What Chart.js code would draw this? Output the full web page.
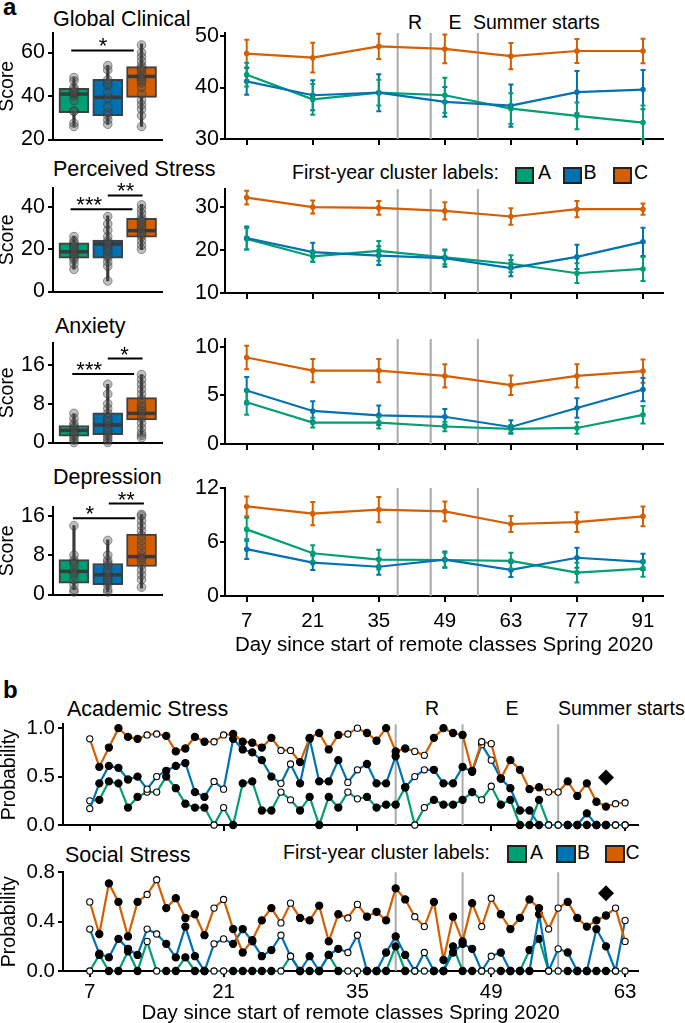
<!DOCTYPE html>
<html lang="en">
<head>
<meta charset="UTF-8">
<title>First-year clusters: scores and daily stress</title>
<script src="https://cdn.jsdelivr.net/npm/chart.js"></script>
<style>
  body { margin: 0; background: #fff; }
  #page { position: relative; width: 685px; height: 1023px; overflow: hidden;
          font-family: "Liberation Sans", Arial, Helvetica, sans-serif; color: #000; }
  canvas { position: absolute; }
  .t { position: absolute; line-height: 1; white-space: nowrap; }
  .title { font-size: 21.5px; }
  .letter { font-size: 24px; font-weight: bold; }
  .note { font-size: 19.5px; }
  .mid { transform: translateX(-50%); }
  .swatch { position: absolute; box-sizing: border-box; border: 2px solid #222; }
</style>
</head>
<body>
<div id="page">
  <div class="t letter" style="left:3px;top:-5px">a</div>
  <div class="t letter" style="left:3px;top:678px">b</div>

  <div class="t title" style="left:53px;top:8.5px">Global Clinical</div>
  <div class="t title" style="left:53px;top:159px">Perceived Stress</div>
  <div class="t title" style="left:55px;top:316px">Anxiety</div>
  <div class="t title" style="left:53px;top:467px">Depression</div>
  <div class="t title" style="left:67px;top:698.5px">Academic Stress</div>
  <div class="t title" style="left:65px;top:845px">Social Stress</div>

  <div class="t note mid" style="left:415px;top:12.8px">R</div>
  <div class="t note mid" style="left:455px;top:12.8px">E</div>
  <div class="t note" style="left:473px;top:12.8px">Summer starts</div>
  <div class="t note mid" style="left:432px;top:698.5px">R</div>
  <div class="t note mid" style="left:512px;top:698.5px">E</div>
  <div class="t note" style="left:558px;top:698.5px">Summer starts</div>

  <div class="t note" style="left:292px;top:162.8px">First-year cluster labels:</div>
  <div class="swatch" style="left:515px;top:167px;width:19px;height:17px;background:#009E73"></div>
  <div class="t note" style="left:538px;top:162.8px">A</div>
  <div class="swatch" style="left:563px;top:167px;width:19px;height:17px;background:#0072B2"></div>
  <div class="t note" style="left:583.5px;top:162.8px">B</div>
  <div class="swatch" style="left:613px;top:167px;width:19px;height:17px;background:#D55E00"></div>
  <div class="t note" style="left:634px;top:162.8px">C</div>

  <div class="t note" style="left:283px;top:842.8px">First-year cluster labels:</div>
  <div class="swatch" style="left:507px;top:845px;width:20px;height:18px;background:#009E73"></div>
  <div class="t note" style="left:530px;top:842.8px">A</div>
  <div class="swatch" style="left:556px;top:845px;width:20px;height:18px;background:#0072B2"></div>
  <div class="t note" style="left:577px;top:842.8px">B</div>
  <div class="swatch" style="left:605px;top:845px;width:20px;height:18px;background:#D55E00"></div>
  <div class="t note" style="left:625.5px;top:842.8px">C</div>

  <canvas id="boxGC"></canvas>
  <canvas id="boxPS"></canvas>
  <canvas id="boxAX"></canvas>
  <canvas id="boxDP"></canvas>
  <canvas id="lineGC"></canvas>
  <canvas id="linePS"></canvas>
  <canvas id="lineAX"></canvas>
  <canvas id="lineDP"></canvas>
  <canvas id="dailyAcad"></canvas>
  <canvas id="dailySoc"></canvas>
</div>

<script>
// ---- data ----
const groups = ['A', 'B', 'C'];
const surveyDays = [7, 21, 35, 49, 63, 77, 91];
const eventDays = [39, 46, 56];

// box plot stats, one value per group A, B, C
const gcLow = [26, 27, 26];
const gcQ1 = [32.3, 31, 39.4];
const gcMed = [40.9, 39.4, 49];
const gcQ3 = [43.5, 47.7, 53.5];
const gcHigh = [48.5, 54, 64];
const gcPtsA = [26, 27.5, 33, 33, 38, 40, 41, 41.5, 42, 43, 44, 47, 48.5];
const gcPtsB = [27, 29, 31, 32.5, 35, 39, 41.5, 45, 46, 47.5, 52, 54];
const gcPtsC = [26, 31, 34, 36, 38, 41, 44, 46, 47, 48, 49, 50, 52, 53, 54, 56, 58, 60, 63.5];

const psLow = [10.6, 5, 19.8];
const psQ1 = [15.8, 15.8, 25.7];
const psMed = [18.8, 22.5, 28.8];
const psQ3 = [23, 24.4, 34.7];
const psHigh = [26.2, 35.8, 41.3];
const psPtsA = [10.5, 13, 15, 16, 17, 18, 19, 20, 21, 22, 23, 24, 26];
const psPtsB = [5, 12, 14, 16, 17, 19, 20, 21, 22, 23, 24, 26, 29, 32, 35.5];
const psPtsC = [20, 22, 24, 26, 27, 28, 29, 30, 31, 32, 33, 34, 35, 37, 39, 41];

const axLow = [0, 0, 1.5];
const axQ1 = [1.3, 1.6, 4.65];
const axMed = [2.5, 3.6, 6];
const axQ3 = [3.5, 6.1, 9.25];
const axHigh = [5.9, 12, 14];
const axPtsA = [0, 0.5, 1, 1.5, 2, 2.5, 3, 3.5, 4, 5, 6];
const axPtsB = [0, 0.5, 1, 1.5, 2, 2.5, 3, 4, 4.5, 5, 6, 7, 8, 10, 12];
const axPtsC = [1, 1.5, 2, 3, 4, 5, 6, 6.5, 7, 7.5, 8, 9, 10, 11, 12, 13, 14];

const dpLow = [1, 0.5, 1.3];
const dpQ1 = [2.3, 2, 5.7];
const dpMed = [4.7, 4, 7.7];
const dpQ3 = [7.1, 6.3, 12.3];
const dpHigh = [14, 11.1, 16.3];
const dpPtsA = [0.5, 1, 2, 3, 4, 4.5, 5, 6, 6.5, 7, 8, 14];
const dpPtsB = [0.5, 1, 2, 2.5, 3, 3.5, 4, 4.5, 5, 6, 6.5, 7, 8, 11];
const dpPtsC = [1.5, 3, 4, 5, 6, 7, 7.5, 8, 9, 10, 11, 12, 13, 14, 15, 16, 16.3];

// significance brackets (x in group index units)
const gcSig = [{x1: -0.08, x2: 1.77, y: 61, text: '*', tx: 0.86}];
const psSig = [{x1: -0.1, x2: 1.73, y: 38.9, text: '***', tx: 0.45}, {x1: 1.0, x2: 2.03, y: 45.5, text: '**', tx: 1.53}];
const axSig = [{x1: -0.05, x2: 1.78, y: 14.1, text: '***', tx: 0.45}, {x1: 1.0, x2: 2.03, y: 17.3, text: '*', tx: 1.5}];
const dpSig = [{x1: -0.03, x2: 1.81, y: 15.5, text: '*', tx: 0.47}, {x1: 1.03, x2: 2.07, y: 18.5, text: '**', tx: 1.55}];

// survey means and error half-widths per group
const gcMeanA = [42.5, 37.7, 39.0, 38.5, 35.9, 34.5, 33.2];
const gcErrA = [2.3, 3.0, 2.5, 3.4, 3.0, 2.6, 3.3];
const gcMeanB = [41.2, 38.5, 39.0, 37.2, 36.5, 39.1, 39.6];
const gcErrB = [2.6, 2.9, 3.6, 2.9, 4.1, 4.1, 3.8];
const gcMeanC = [46.6, 45.8, 48.0, 47.5, 46.1, 47.1, 47.1];
const gcErrC = [2.7, 2.9, 2.45, 2.8, 2.55, 2.35, 2.4];

const psMeanA = [22.6, 18.5, 19.8, 18.3, 16.8, 14.6, 15.6];
const psErrA = [2.5, 1.2, 2.3, 1.6, 2.0, 2.3, 2.8];
const psMeanB = [22.8, 19.5, 18.7, 18.1, 15.8, 18.4, 21.9];
const psErrB = [2.7, 2.2, 2.2, 2.0, 1.9, 2.8, 3.3];
const psMeanC = [32.2, 30.0, 29.8, 29.1, 27.8, 29.5, 29.5];
const psErrC = [1.6, 1.5, 1.6, 2.0, 1.9, 1.9, 1.3];

const axMeanA = [4.3, 2.2, 2.2, 1.8, 1.55, 1.65, 3.0];
const axErrA = [1.3, 0.5, 0.6, 0.5, 0.4, 0.6, 0.9];
const axMeanB = [5.5, 3.4, 2.95, 2.8, 1.75, 3.7, 5.6];
const axErrB = [1.4, 1.0, 1.0, 0.8, 0.7, 1.0, 1.2];
const axMeanC = [8.9, 7.55, 7.55, 7.0, 6.05, 7.0, 7.5];
const axErrC = [1.2, 1.2, 1.2, 1.2, 1.0, 1.2, 1.2];

const dpMeanA = [7.4, 4.75, 4.05, 4.0, 3.9, 2.6, 3.05];
const dpErrA = [1.3, 0.9, 1.1, 0.8, 0.9, 1.1, 0.9];
const dpMeanB = [5.2, 3.7, 3.25, 4.05, 2.9, 4.25, 3.8];
const dpErrB = [1.1, 0.8, 0.9, 0.9, 0.8, 1.1, 0.9];
const dpMeanC = [9.95, 9.15, 9.6, 9.4, 8.0, 8.2, 8.85];
const dpErrC = [1.1, 1.3, 1.4, 1.1, 0.9, 1.1, 1.1];

// panel b: daily probabilities, days 7..63
const dailyDays = [7, 8, 9, 10, 11, 12, 13, 14, 15, 16, 17, 18, 19, 20, 21, 22, 23, 24, 25, 26, 27, 28,
  29, 30, 31, 32, 33, 34, 35, 36, 37, 38, 39, 40, 41, 42, 43, 44, 45, 46, 47, 48, 49, 50, 51, 52, 53,
  54, 55, 56, 57, 58, 59, 60, 61, 62, 63];
const openDays = [7, 13, 14, 20, 21, 27, 28, 34, 35, 41, 42, 48, 49, 55, 56, 62, 63];

const acadA = [0.25, 0.26, 0.45, 0.43, 0.18, 0.29, 0.34,
  0.34, 0.50, 0.38, 0.22, 0.18, 0.18, 0.00,
  0.18, 0.00, 0.43, 0.45, 0.15, 0.15, 0.34,
  0.26, 0.15, 0.29, 0.00, 0.29, 0.18, 0.34,
  0.27, 0.29, 0.18, 0.21, 0.21, 0.39, 0.00,
  0.18, 0.26, 0.21, 0.21, 0.26, 0.34, 0.26,
  0.40, 0.21, 0.26, 0.00, 0.00, 0.26, 0.00,
  0, 0, 0, 0, 0, 0, 0, 0];
const acadB = [0.17, 0.43, 0.61, 0.59, 0.47, 0.50, 0.37,
  0.50, 0.56, 0.61, 0.64, 0.34, 0.29, 0.45,
  0.37, 0.89, 0.78, 0.75, 0.67, 0.50, 0.43,
  0.63, 0.43, 0.89, 0.45, 0.45, 0.67, 0.44,
  0.57, 0.63, 0.43, 0.43, 0.71, 0.39, 0.50,
  0.57, 0.57, 0.43, 0.43, 0.60, 0.55, 0.83,
  0.67, 0.48, 0.38, 0.15, 0.15, 0.00, 0.00,
  0.00, 0.00, 0.00, 0.12, 0.00, 0.00, 0.00, 0.00];
const acadC = [0.89, 0.60, 0.80, 1.00, 0.91, 0.89, 0.93,
  0.94, 0.92, 0.76, 0.79, 0.91, 0.86, 0.86,
  0.93, 0.94, 0.86, 0.85, 0.80, 0.90, 0.77,
  0.77, 0.65, 0.90, 0.95, 0.78, 0.93, 0.94,
  1.00, 0.95, 0.87, 1.00, 0.76, 0.79, 0.76,
  0.72, 0.90, 1.00, 0.95, 0.93, 0.56, 0.86,
  0.84, 0.48, 0.67, 0.57, 0.37, 0.39, 0.34,
  0.34, 0.45, 0.30, 0.43, 0.24, 0.19, 0.22, 0.23];

const socA = [0, 0.13, 0, 0, 0.16, 0, 0.24,
  0, 0, 0, 0.11, 0, 0, 0,
  0, 0, 0, 0, 0, 0, 0,
  0.12, 0, 0, 0, 0.13, 0, 0,
  0, 0, 0, 0, 0.20, 0, 0,
  0, 0, 0, 0.20, 0, 0, 0,
  0, 0, 0, 0, 0.17, 0.26, 0,
  0, 0, 0, 0, 0, 0, 0, 0];
const socB = [0.34, 0.14, 0.11, 0.26, 0.18, 0.13, 0.34,
  0.30, 0.22, 0.11, 0.36, 0.12, 0.00, 0.22,
  0.26, 0.22, 0.34, 0.24, 0.12, 0.17, 0.29,
  0.12, 0.00, 0.12, 0.00, 0.13, 0.18, 0.15,
  0.29, 0.00, 0.00, 0.15, 0.28, 0.13, 0.00,
  0.15, 0.00, 0.00, 0.15, 0.22, 0.18, 0.00,
  0.12, 0.15, 0.00, 0.00, 0.00, 0.46, 0.00,
  0.18, 0.15, 0.00, 0.00, 0.34, 0.20, 0.00, 0.41];
const socC = [0.56, 0.30, 0.71, 0.56, 0.28, 0.56, 0.62,
  0.74, 0.51, 0.59, 0.43, 0.46, 0.29, 0.51,
  0.58, 0.34, 0.15, 0.25, 0.41, 0.51, 0.39,
  0.55, 0.43, 0.41, 0.53, 0.24, 0.46, 0.43,
  0.54, 0.44, 0.48, 0.41, 0.67, 0.58, 0.44,
  0.36, 0.56, 0.09, 0.44, 0.24, 0.55, 0.36,
  0.59, 0.46, 0.34, 0.43, 0.58, 0.51, 0.34,
  0.51, 0.56, 0.43, 0.36, 0.41, 0.45, 0.51, 0.24];

const acadDiamond = [61, 0.49];
const socDiamond = [61, 0.63];

// ---- drawing ----
const colors = ['#009E73', '#0072B2', '#D55E00'];
Chart.defaults.font.family = '"Liberation Sans", Arial, Helvetica, sans-serif';
Chart.defaults.color = '#000';
Chart.defaults.animation = false;
Chart.defaults.plugins.legend.display = false;
Chart.defaults.plugins.tooltip.enabled = false;

function place(id, g) {
  const c = document.getElementById(id);
  const left = g.x0 - g.yw, top = g.y0 - g.pt;
  const w = g.x1 + g.pr - left, h = g.y1 + g.xh + g.pb - top;
  c.width = w; c.height = h;
  Object.assign(c.style, {left: left + 'px', top: top + 'px', width: w + 'px', height: h + 'px'});
  return c;
}

function yAxis(g, range, ticks, size, title, dec) {
  return {
    min: range[0], max: range[1],
    afterFit: s => { s.width = g.yw; },
    afterBuildTicks: s => { s.ticks = ticks.map(v => ({value: v})); },
    ticks: {padding: g.tp, font: {size: size}, color: '#000', callback: v => dec ? v.toFixed(dec) : v},
    grid: {drawOnChartArea: false, tickLength: 5, color: '#000', lineWidth: 2},
    border: {color: '#000', width: 2},
    title: title ? {display: true, text: title, color: '#000', padding: 0,
                    font: {size: 19.5, lineHeight: g.tlh}} : {display: false}
  };
}

function xAxis(g, range, ticks, showLabels, title) {
  return {
    type: 'linear', min: range[0], max: range[1],
    afterFit: s => { s.height = g.xh; },
    afterBuildTicks: s => { s.ticks = ticks.map(v => ({value: v})); },
    ticks: {display: showLabels, padding: g.xp, font: {size: 20.5}, color: '#000', maxRotation: 0, autoSkip: false},
    grid: {drawOnChartArea: false, tickLength: 6, color: '#000', lineWidth: 2},
    border: {color: '#000', width: 2},
    title: title ? {display: true, text: title, color: '#000', padding: 0, font: {size: 20.5}} : {display: false}
  };
}

const eventLines = {
  id: 'eventLines',
  beforeDatasetsDraw(chart) {
    const {ctx, chartArea: a, scales: {x}} = chart;
    ctx.save();
    ctx.strokeStyle = '#a9a9a9';
    ctx.lineWidth = 2;
    eventDays.forEach(d => {
      const px = x.getPixelForValue(d);
      ctx.beginPath(); ctx.moveTo(px, a.top); ctx.lineTo(px, a.bottom); ctx.stroke();
    });
    ctx.restore();
  }
};

const errorBars = {
  id: 'errorBars',
  afterDatasetsDraw(chart) {
    const {ctx, scales: {x, y}} = chart;
    chart.data.datasets.forEach(ds => {
      if (!ds.errors) return;
      ctx.save();
      ctx.strokeStyle = ds.borderColor;
      ctx.lineWidth = 2;
      ds.data.forEach((p, k) => {
        const px = x.getPixelForValue(p.x);
        const lo = y.getPixelForValue(p.y - ds.errors[k]);
        const hi = y.getPixelForValue(p.y + ds.errors[k]);
        ctx.beginPath();
        ctx.moveTo(px, lo); ctx.lineTo(px, hi);
        ctx.moveTo(px - 2.5, lo); ctx.lineTo(px + 2.5, lo);
        ctx.moveTo(px - 2.5, hi); ctx.lineTo(px + 2.5, hi);
        ctx.stroke();
      });
      ctx.restore();
    });
  }
};

const sigBars = {
  id: 'sigBars',
  afterDraw(chart) {
    const bars = chart.options.plugins.sigBars.bars;
    const {ctx, scales: {x, y}} = chart;
    ctx.save();
    ctx.strokeStyle = '#000';
    ctx.fillStyle = '#000';
    ctx.lineWidth = 2;
    ctx.font = '22px "Liberation Sans", Arial, sans-serif';
    ctx.textAlign = 'center';
    ctx.textBaseline = 'alphabetic';
    bars.forEach(b => {
      const py = y.getPixelForValue(b.y);
      ctx.beginPath();
      ctx.moveTo(x.getPixelForValue(b.x1), py);
      ctx.lineTo(x.getPixelForValue(b.x2), py);
      ctx.stroke();
      ctx.fillText(b.text, x.getPixelForValue(b.tx), py + 3);
    });
    ctx.restore();
  }
};

function boxChart(id, g, low, q1, med, q3, high, pts, range, ticks, sig) {
  const idx = groups.map((_, i) => i);
  const scatter = [];
  pts.forEach((arr, i) => arr.forEach(v => scatter.push({x: i, y: v})));
  new Chart(place(id, g), {
    type: 'scatter',
    data: {datasets: [
      {type: 'scatter', data: scatter, order: 0, clip: false, pointRadius: 4.3,
       pointBackgroundColor: 'rgba(80,80,80,0.36)', pointBorderColor: 'rgba(50,50,50,0.5)', pointBorderWidth: 1},
      {type: 'scatter', data: idx.map(i => ({x: i, y: med[i]})), order: 1, clip: false,
       pointStyle: 'line', pointRadius: 14, pointBorderColor: '#3a3a3a', pointBorderWidth: 3.5},
      {type: 'bar', data: idx.map(i => ({x: i, y: [q1[i], q3[i]]})), order: 2, grouped: false, barThickness: 30,
       backgroundColor: colors, borderColor: '#404040', borderWidth: 2, borderSkipped: false},
      {type: 'bar', data: idx.map(i => ({x: i, y: [low[i], high[i]]})), order: 3, grouped: false, barThickness: 2.5,
       backgroundColor: '#3a3a3a'}
    ]},
    options: {
      responsive: false,
      layout: {padding: {top: g.pt, right: g.pr, bottom: g.pb, left: 0}},
      plugins: {sigBars: {bars: sig}},
      scales: {
        x: {type: 'linear', min: -0.62, max: 2.62, offset: false, bounds: 'data',
            afterFit: s => { s.height = g.xh; },
            afterBuildTicks: s => { s.ticks = idx.map(v => ({value: v})); s.min = -0.62; s.max = 2.62; },
            ticks: {display: false}, grid: {display: false}, border: {color: '#000', width: 2}},
        y: yAxis(g, range, ticks, 21.5, 'Score')
      }
    },
    plugins: [sigBars]
  });
}

function lineChart(id, g, means, errs, range, ticks, showX) {
  new Chart(place(id, g), {
    type: 'line',
    data: {datasets: [2, 1, 0].map(i => ({
      data: surveyDays.map((d, k) => ({x: d, y: means[i][k]})),
      errors: errs[i], clip: false,
      borderColor: colors[i], borderWidth: 2.2, pointRadius: 2.8,
      pointBackgroundColor: colors[i], pointBorderWidth: 0
    }))},
    options: {
      responsive: false,
      layout: {padding: {top: g.pt, right: g.pr, bottom: g.pb, left: 0}},
      scales: {
        x: xAxis(g, [2.4, 95.24], surveyDays, showX, showX ? 'Day since start of remote classes Spring 2020' : null),
        y: yAxis(g, range, ticks, 21.5, null)
      }
    },
    plugins: [eventLines, errorBars]
  });
}

function dailyChart(id, g, series, diamond, range, ticks, showX) {
  const fill = dailyDays.map(d => openDays.includes(d) ? '#fff' : '#000');
  const rad = dailyDays.map(d => openDays.includes(d) ? 3.1 : 3.6);
  new Chart(place(id, g), {
    type: 'line',
    data: {datasets: [
      {type: 'scatter', data: [{x: diamond[0], y: diamond[1]}], clip: false, pointStyle: 'rectRot',
       pointRadius: 8, pointBackgroundColor: '#000', pointBorderWidth: 0}
    ].concat([2, 1, 0].map(i => ({
      data: dailyDays.map((d, k) => ({x: d, y: series[i][k]})), clip: false,
      borderColor: colors[i], borderWidth: 2.2, pointRadius: rad,
      pointBackgroundColor: fill, pointBorderColor: '#000', pointBorderWidth: 1.1
    })))},
    options: {
      responsive: false,
      layout: {padding: {top: g.pt, right: g.pr, bottom: g.pb, left: 0}},
      scales: {
        x: xAxis(g, [4.2, 64.35], [7, 21, 35, 49, 63], showX, showX ? 'Day since start of remote classes Spring 2020' : null),
        y: yAxis(g, range, ticks, 20.5, 'Probability', 1)
      }
    },
    plugins: [eventLines]
  });
}

const boxGeo = y0y1 => ({x0: 53, x1: 178, y0: y0y1[0], y1: y0y1[1], yw: 53, xh: 8, pt: 30, pr: 2, pb: 8, tp: 3, tlh: 0.75});
boxChart('boxGC', boxGeo([33, 141]), gcLow, gcQ1, gcMed, gcQ3, gcHigh, [gcPtsA, gcPtsB, gcPtsC], [20, 69], [20, 40, 60], gcSig);
boxChart('boxPS', boxGeo([188, 293]), psLow, psQ1, psMed, psQ3, psHigh, [psPtsA, psPtsB, psPtsC], [0, 49], [0, 20, 40], psSig);
boxChart('boxAX', boxGeo([343, 444]), axLow, axQ1, axMed, axQ3, axHigh, [axPtsA, axPtsB, axPtsC], [0, 20.5], [0, 8, 16], axSig);
boxChart('boxDP', boxGeo([507, 596]), dpLow, dpQ1, dpMed, dpQ3, dpHigh, [dpPtsA, dpPtsB, dpPtsC], [0, 17.8], [0, 8, 16], dpSig);

const lineGeo = (y0, y1, xh, pb) => ({x0: 225, x1: 663, y0: y0, y1: y1, yw: 45, xh: xh, pt: 14, pr: 4, pb: pb, tp: 1, xp: 7});
lineChart('lineGC', lineGeo(33, 139, 8, 8), [gcMeanA, gcMeanB, gcMeanC], [gcErrA, gcErrB, gcErrC], [30, 50.6], [30, 40, 50], false);
lineChart('linePS', lineGeo(189, 293, 8, 8), [psMeanA, psMeanB, psMeanC], [psErrA, psErrB, psErrC], [10, 34.2], [10, 20, 30], false);
lineChart('lineAX', lineGeo(339, 444, 8, 8), [axMeanA, axMeanB, axMeanC], [axErrA, axErrB, axErrC], [0, 10.8], [0, 5, 10], false);
lineChart('lineDP', lineGeo(488, 596, 62, 0), [dpMeanA, dpMeanB, dpMeanC], [dpErrA, dpErrB, dpErrC], [0, 12], [0, 6, 12], true);

const dailyGeo = (y0, y1, xh, pb) => ({x0: 63, x1: 642, y0: y0, y1: y1, yw: 63, xh: xh, pt: 14, pr: 4, pb: pb, tp: 3, tlh: 1.0, xp: 3});
dailyChart('dailyAcad', dailyGeo(723, 825, 8, 8), [acadA, acadB, acadC], acadDiamond, [0, 1.04], [0, 0.5, 1.0], false);
dailyChart('dailySoc', dailyGeo(871, 971, 55, 0), [socA, socB, socC], socDiamond, [0, 0.8], [0, 0.4, 0.8], true);
</script>
</body>
</html>
